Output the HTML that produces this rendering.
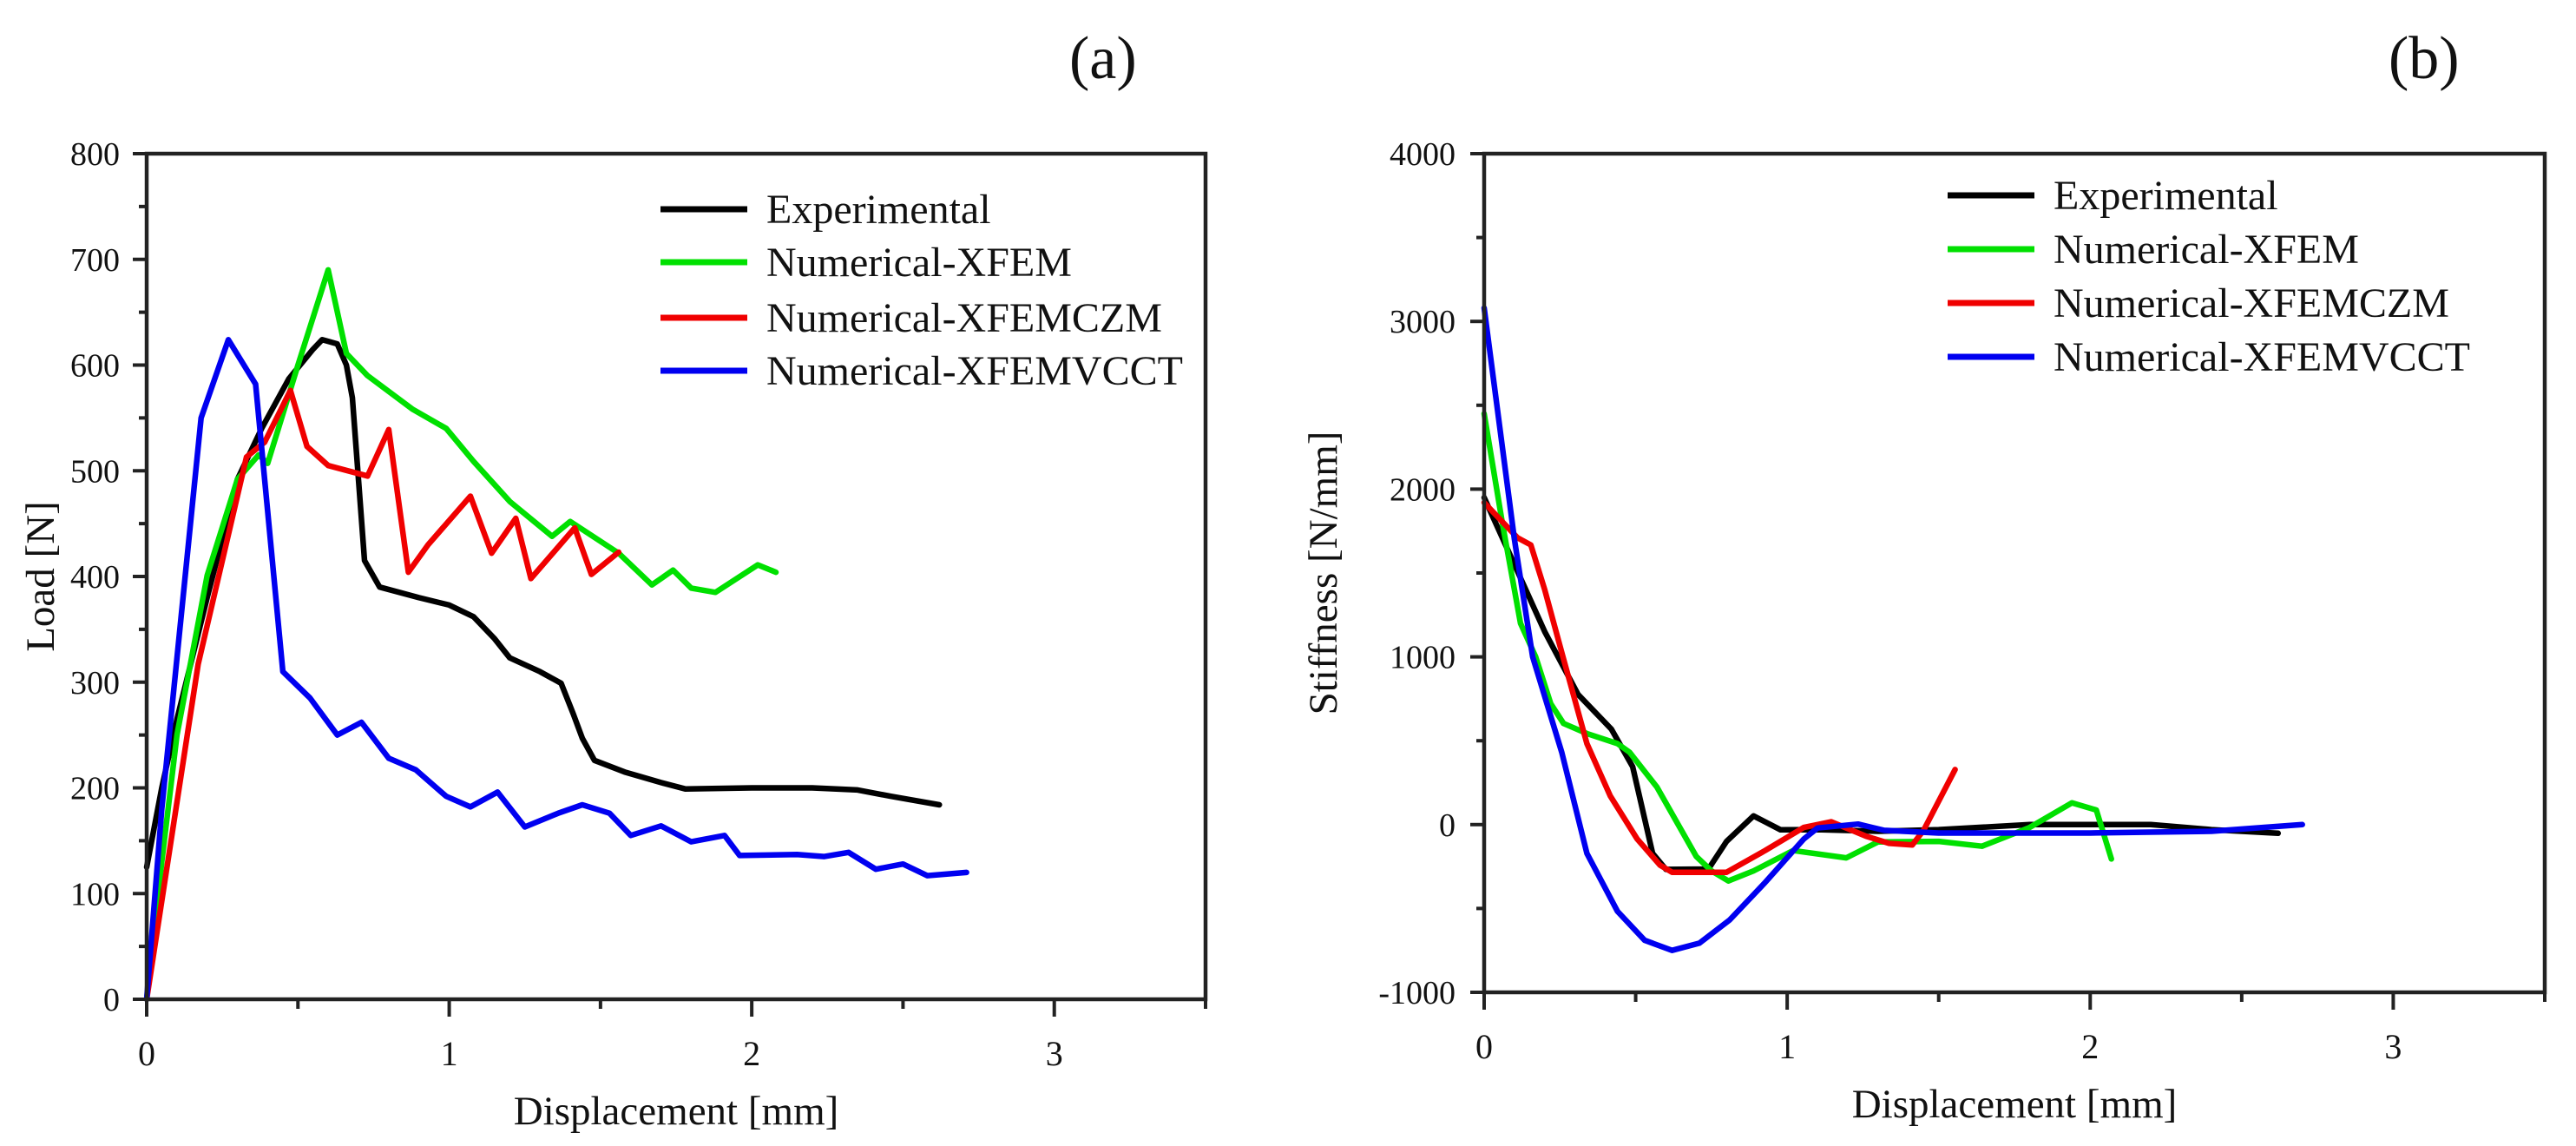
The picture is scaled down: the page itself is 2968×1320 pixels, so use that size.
<!DOCTYPE html>
<html><head><meta charset="utf-8">
<style>
html,body{margin:0;padding:0;background:#fff;}
svg{display:block;}
text{font-family:"Liberation Serif","DejaVu Serif",serif;fill:#111;}
</style></head>
<body>
<svg id="fig" width="2968" height="1320" viewBox="0 0 2968 1320" xmlns="http://www.w3.org/2000/svg">
<text x="1232" y="90" font-size="70">(a)</text>
<text x="2752" y="90" font-size="70">(b)</text>
<g id="pa"></g>
<g id="pb"></g>
</svg>
<script>
// ---- Panel (a) data: Load [N] vs displacement [mm]
const aXTicks = [0, 1, 2, 3];
const aYTicks = [0, 100, 200, 300, 400, 500, 600, 700, 800];
const seriesNames = ["Experimental", "Numerical-XFEM", "Numerical-XFEMCZM", "Numerical-XFEMVCCT"];
const aExpX = [0,0.05,0.1,0.2,0.3,0.38,0.47,0.55,0.58,0.63,0.66,0.68,0.72,0.77,0.9,1.0,1.08,1.15,1.2,1.3,1.37,1.41,1.44,1.48,1.58,1.7,1.78,2.0,2.2,2.35,2.46,2.62];
const aExpY = [125,200,265,380,492,540,587,615,624,620,600,569,415,390,380,373,362,341,323,310,299,270,247,226,215,205,199,200,200,198,192,184];
const aXfemX = [0,0.05,0.1,0.2,0.3,0.37,0.4,0.5,0.6,0.66,0.73,0.88,0.99,1.08,1.2,1.34,1.4,1.56,1.67,1.74,1.8,1.88,2.02,2.08];
const aXfemY = [0,130,250,401,492,515,507,600,690,611,590,558,540,509,471,438,452,422,392,406,389,385,411,404];
const aCzmX = [0,0.17,0.33,0.39,0.475,0.53,0.6,0.73,0.8,0.865,0.93,1.07,1.14,1.22,1.27,1.415,1.47,1.56];
const aCzmY = [0,317,513,527,576,523,505,495,539,404,430,476,422,455,398,446,402,423];
const aVcctX = [0,0.05,0.18,0.27,0.36,0.45,0.54,0.63,0.71,0.8,0.89,0.99,1.07,1.16,1.25,1.36,1.44,1.53,1.6,1.7,1.8,1.91,1.96,2.15,2.24,2.32,2.41,2.5,2.58,2.71];
const aVcctY = [0,180,550,624,582,310,285,250,262,228,217,192,182,196,163,176,184,176,155,164,149,155,136,137,135,139,123,128,117,120];

// ---- Panel (b) data: Stiffness [N/mm] vs displacement [mm]
const bXTicks = [0, 1, 2, 3];
const bYTicks = [-1000, 0, 1000, 2000, 3000, 4000];
const bExpX = [0,0.1,0.2,0.31,0.42,0.49,0.556,0.6,0.74,0.8,0.889,0.978,1.1,1.3,1.5,1.8,2.2,2.4,2.62];
const bExpY = [1950,1550,1150,776,569,345,-172,-267,-265,-100,52,-31,-30,-40,-30,0,0,-30,-52];
const bXfemX = [0,0.06,0.12,0.17,0.22,0.262,0.339,0.44,0.48,0.57,0.7,0.75,0.806,0.889,1.02,1.195,1.3,1.5,1.643,1.8,1.94,2.02,2.07];
const bXfemY = [2450,1800,1200,1000,720,603,543,483,431,224,-190,-276,-336,-276,-155,-198,-103,-100,-129,-17,130,87,-205];
const bCzmX = [0,0.11,0.154,0.2,0.26,0.339,0.416,0.505,0.58,0.62,0.8,0.927,1.055,1.145,1.26,1.336,1.413,1.45,1.554];
const bCzmY = [1920,1710,1667,1400,1000,483,172,-86,-241,-284,-284,-155,-17,17,-69,-112,-121,-34,328];
const bVcctX = [0,0.1,0.16,0.256,0.339,0.44,0.53,0.62,0.71,0.81,0.927,1.055,1.1,1.234,1.32,1.5,2.0,2.4,2.7];
const bVcctY = [3080,1700,1000,431,-172,-517,-690,-750,-707,-569,-345,-86,-20,3,-34,-50,-50,-40,0];

const colors = ["#000000", "#00e000", "#f00000", "#0000f0"];
const NS = "http://www.w3.org/2000/svg";
function mk(tag, attrs, parent) {
  const e = document.createElementNS(NS, tag);
  for (const k in attrs) e.setAttribute(k, attrs[k]);
  parent.appendChild(e);
  return e;
}
function drawPanel(g, cfg) {
  const sx = v => cfg.x0 + (v - cfg.xmin) / (cfg.xmax - cfg.xmin) * (cfg.x1 - cfg.x0);
  const sy = v => cfg.yb - (v - cfg.ymin) / (cfg.ymax - cfg.ymin) * (cfg.yb - cfg.yt);
  cfg.series.forEach((s, i) => {
    const d = s.x.map((xv, j) => (j ? "L" : "M") + sx(xv).toFixed(1) + "," + sy(s.y[j]).toFixed(1)).join(" ");
    const p = mk("path", {d: d, fill: "none", stroke: colors[i], "stroke-width": 6.5, "stroke-linejoin": "round", "stroke-linecap": "round"}, g);
    
    
  });
  const fr = mk("rect", {x: cfg.x0, y: cfg.yt, width: cfg.x1 - cfg.x0, height: cfg.yb - cfg.yt, fill: "none", stroke: "#222", "stroke-width": 4.5}, g);
  
  
  cfg.yTicks.forEach((t, i) => {
    const y = sy(t);
    const tk = mk("line", {x1: cfg.x0 - 16, x2: cfg.x0, y1: y, y2: y, stroke: "#222", "stroke-width": 4}, g);
    
    
    const lb = mk("text", {x: cfg.ylabX, y: y + 13, "font-size": 38, "text-anchor": "end"}, g);
    lb.textContent = String(t);
    
    
    if (i < cfg.yTicks.length - 1) {
      const ym = sy((t + cfg.yTicks[i + 1]) / 2);
      const mt = mk("line", {x1: cfg.x0 - 9, x2: cfg.x0, y1: ym, y2: ym, stroke: "#222", "stroke-width": 4}, g);
      
      
    }
  });
  cfg.xTicks.forEach(t => {
    const x = sx(t);
    const tk = mk("line", {x1: x, x2: x, y1: cfg.yb, y2: cfg.yb + 20, stroke: "#222", "stroke-width": 4}, g);
    
    
    const lb = mk("text", {x: x, y: cfg.yb + 76, "font-size": 40, "text-anchor": "middle"}, g);
    lb.textContent = String(t);
    
    
    const xm = sx(t + 0.5);
    const mt = mk("line", {x1: xm, x2: xm, y1: cfg.yb, y2: cfg.yb + 11, stroke: "#222", "stroke-width": 4}, g);
    
    
  });
  const xt = mk("text", {x: (cfg.x0 + cfg.x1) / 2, y: cfg.yb + 144, "font-size": 47, "text-anchor": "middle"}, g);
  xt.textContent = "Displacement [mm]";
  
  
  const cy = (cfg.yt + cfg.yb) / 2;
  const yt = mk("text", {x: cfg.ytX, y: cy, "font-size": 47, "text-anchor": "middle", transform: "rotate(-90 " + cfg.ytX + " " + cy + ")"}, g);
  yt.textContent = cfg.yTitle;
  
  
  seriesNames.forEach((n, i) => {
    const y = cfg.legY[i];
    const ln = mk("line", {x1: cfg.legX, x2: cfg.legX + 100, y1: y, y2: y, stroke: colors[i], "stroke-width": 7}, g);
    
    
    const tx = mk("text", {x: cfg.legX + 122, y: y + 16, "font-size": 48}, g);
    tx.textContent = n;
    
    
  });
}
drawPanel(document.getElementById("pa"), {
  x0: 169, x1: 1389, xmin: 0, xmax: 3.5, yt: 177, yb: 1151, ymin: 0, ymax: 800,
  xTicks: aXTicks, yTicks: aYTicks, ylabX: 138, ytX: 62, yTitle: "Load [N]",
  legX: 761, legY: [241, 302, 366, 427],
  series: [{x: aExpX, y: aExpY}, {x: aXfemX, y: aXfemY}, {x: aCzmX, y: aCzmY}, {x: aVcctX, y: aVcctY}]
});
drawPanel(document.getElementById("pb"), {
  x0: 1710, x1: 2932, xmin: 0, xmax: 3.5, yt: 177, yb: 1143, ymin: -1000, ymax: 4000,
  xTicks: bXTicks, yTicks: bYTicks, ylabX: 1677, ytX: 1540, yTitle: "Stiffness [N/mm]",
  legX: 2244, legY: [225, 287, 349, 411],
  series: [{x: bExpX, y: bExpY}, {x: bXfemX, y: bXfemY}, {x: bCzmX, y: bCzmY}, {x: bVcctX, y: bVcctY}]
});
</script>
</body></html>
